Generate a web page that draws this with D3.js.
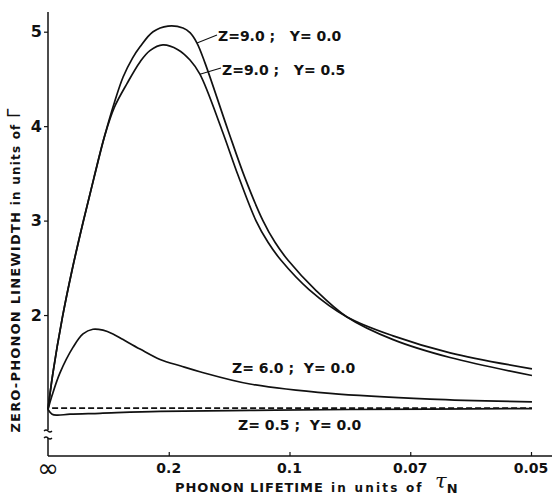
<!DOCTYPE html>
<html>
<head>
<meta charset="utf-8">
<script src="https://cdn.jsdelivr.net/npm/d3@7"></script>
<style>
  html, body { margin: 0; padding: 0; background: #fff; }
  svg { display: block; font-family: 'DejaVu Sans', sans-serif; font-weight: bold; }
</style>
</head>
<body>
<svg id="chart" width="558" height="498"></svg>
<script>
// x is in units of 1/tau (0 = infinite lifetime), y is linewidth in units of Gamma
const xTicks = [0, 5, 10, 15, 20];
const xTickLabels = ['∞', '0.2', '0.1', '0.07', '0.05'];
const yTicks = [2, 3, 4, 5];

const z9y0 = [
  [0, 1.0], [0.2, 1.38], [0.6, 1.98], [1.0, 2.48], [1.45, 2.98], [1.9, 3.45],
  [2.35, 3.9], [2.75, 4.25], [3.11, 4.52], [3.5, 4.72], [3.81, 4.84], [4.35, 5.0],
  [4.97, 5.06], [5.59, 5.04], [5.88, 4.99], [6.17, 4.88], [6.5, 4.67], [7.45, 3.96],
  [8.16, 3.45], [8.9, 3.0], [9.4, 2.77], [9.94, 2.58], [11.06, 2.27], [12.38, 1.98],
  [14.29, 1.74], [16.65, 1.55], [20.04, 1.36]
];
const z9y05 = [
  [0, 1.0], [0.2, 1.38], [0.6, 1.98], [1.0, 2.48], [1.45, 2.98], [1.9, 3.45],
  [2.35, 3.9], [2.75, 4.2], [3.27, 4.45], [3.81, 4.68], [4.22, 4.8], [4.76, 4.86],
  [5.38, 4.81], [5.88, 4.7], [6.29, 4.55], [7.2, 3.96], [7.87, 3.48], [8.61, 3.0],
  [9.11, 2.77], [9.65, 2.58], [10.81, 2.27], [12.38, 1.98], [14.29, 1.78],
  [16.65, 1.6], [20.04, 1.43]
];
const z6y0 = [
  [0, 1.0], [0.17, 1.15], [0.5, 1.39], [1.04, 1.66], [1.45, 1.8], [1.86, 1.85],
  [2.28, 1.84], [2.69, 1.8], [3.11, 1.74], [3.81, 1.64], [4.64, 1.53], [5.5, 1.46],
  [6.29, 1.4], [8.36, 1.27], [11.68, 1.17], [15.82, 1.11], [20.04, 1.08]
];
const z05y0 = [
  [0, 1.0], [0.17, 0.95], [0.37, 0.94], [0.91, 0.95], [2.15, 0.96], [4.64, 0.98],
  [8.36, 0.99], [12.5, 1.0], [20.04, 1.01]
];
const dashedRef = [[0.17, 1.015], [20.04, 1.015]];

const svg = d3.select('#chart');
const x0 = 48, xEnd = 552, yAxisBottom = 456, yAxisTop = 12;

const xScale = d3.scaleLinear().domain([0, 20]).range([48, 531]);
const yScale = d3.scaleLinear().domain([1, 5]).range([409.5, 31.7]);

// axes lines
const axisColor = '#111';
svg.append('line')
  .attr('x1', x0).attr('x2', xEnd)
  .attr('y1', yAxisBottom).attr('y2', yAxisBottom)
  .attr('stroke', axisColor).attr('stroke-width', 1.5);
svg.append('line')
  .attr('x1', x0).attr('x2', x0)
  .attr('y1', yAxisTop).attr('y2', 430)
  .attr('stroke', axisColor).attr('stroke-width', 1.5);
svg.append('line')
  .attr('x1', x0).attr('x2', x0)
  .attr('y1', 438).attr('y2', yAxisBottom)
  .attr('stroke', axisColor).attr('stroke-width', 1.5);
// axis break mark
[430, 437].forEach(yy => {
  svg.append('path')
    .attr('d', `M${x0 - 4},${yy + 1} q2,-2 4,0 t4,0`)
    .attr('fill', 'none').attr('stroke', axisColor).attr('stroke-width', 1.3);
});

// x ticks (inward) and labels
const xAxis = d3.axisTop(xScale)
  .tickValues(xTicks)
  .tickSize(4)
  .tickSizeOuter(0)
  .tickFormat(() => '');
const gx = svg.append('g').attr('transform', `translate(0,${yAxisBottom})`).call(xAxis);
gx.select('.domain').remove();
gx.selectAll('.tick line').attr('stroke', axisColor).attr('stroke-width', 1.2)
  .filter(d => d === 0).remove();

svg.append('g').selectAll('text')
  .data(xTicks)
  .join('text')
  .attr('x', d => xScale(d))
  .attr('y', (d, i) => i === 0 ? 477 : 473)
  .attr('text-anchor', 'middle')
  .attr('font-size', (d, i) => i === 0 ? 26 : 14)
  .attr('font-weight', (d, i) => i === 0 ? 'normal' : 'bold')
  .attr('fill', axisColor)
  .text((d, i) => xTickLabels[i]);

// y ticks (outward) and labels
const yAxis = d3.axisLeft(yScale)
  .tickValues(yTicks)
  .tickSize(4)
  .tickSizeOuter(0)
  .tickFormat(d3.format('d'));
const gy = svg.append('g').attr('transform', `translate(${x0},0)`).call(yAxis);
gy.select('.domain').remove();
gy.selectAll('.tick line').attr('stroke', axisColor).attr('stroke-width', 1.2);
gy.selectAll('.tick text')
  .attr('font-size', 16).attr('font-weight', 'bold')
  .attr('font-family', "'DejaVu Sans', sans-serif")
  .attr('fill', axisColor).attr('x', -6);

// axis titles
const xTitle = svg.append('text')
  .attr('y', 492)
  .attr('font-size', 13).attr('fill', axisColor);
xTitle.append('tspan').attr('x', 175).attr('letter-spacing', 0.9).text('PHONON  LIFETIME');
xTitle.append('tspan').attr('x', 331).attr('font-size', 12).attr('letter-spacing', 2.2).text('in  units  of');
xTitle.append('tspan').attr('x', 435).attr('dy', -4).attr('font-size', 21).attr('font-weight', 'normal')
  .attr('font-family', "'DejaVu Serif', serif").attr('font-style', 'italic').text('τ');
xTitle.append('tspan').attr('dy', 5).attr('font-size', 13).text('N');

const yTitle = svg.append('text')
  .attr('transform', 'translate(20,270) rotate(-90)')
  .attr('text-anchor', 'middle')
  .attr('font-size', 13).attr('fill', axisColor)
  .attr('letter-spacing', 1.2);
yTitle.append('tspan').text('ZERO-PHONON  LINEWIDTH  ');
yTitle.append('tspan').attr('font-size', 12).text('in  units  of  ');
yTitle.append('tspan').attr('font-size', 17).attr('font-weight', 'normal').text('Γ');

// curves
const line = d3.line()
  .x(d => xScale(d[0]))
  .y(d => yScale(d[1]))
  .curve(d3.curveCatmullRom.alpha(0.5));

const curves = [z9y0, z9y05, z6y0, z05y0];
svg.append('g').selectAll('path')
  .data(curves)
  .join('path')
  .attr('d', line)
  .attr('fill', 'none')
  .attr('stroke', '#111')
  .attr('stroke-width', 1.7);

svg.append('path')
  .datum(dashedRef)
  .attr('d', line)
  .attr('fill', 'none')
  .attr('stroke', '#111')
  .attr('stroke-width', 1.8)
  .attr('stroke-dasharray', '6,3');

// curve labels with leader lines
const labels = [
  { text: 'Z=9.0 ;   Y= 0.0', x: 218, y: 41, lead: [z9y0, 6.17], lx: 217, ly: 35 },
  { text: 'Z=9.0 ;   Y= 0.5', x: 222, y: 75, lead: [z9y05, 6.29], lx: 221, ly: 68 },
  { text: 'Z= 6.0 ;  Y= 0.0', x: 232, y: 373, lead: null },
  { text: 'Z= 0.5 ;  Y= 0.0', x: 238, y: 430, lead: null }
];
labels.forEach(l => {
  if (l.lead) {
    const pt = l.lead[0].find(p => p[0] === l.lead[1]);
    svg.append('line')
      .attr('x1', xScale(pt[0])).attr('y1', yScale(pt[1]))
      .attr('x2', l.lx).attr('y2', l.ly)
      .attr('stroke', '#111').attr('stroke-width', 1.1);
  }
  svg.append('text')
    .attr('x', l.x).attr('y', l.y)
    .attr('font-size', 14).attr('fill', '#111')
    .style('white-space', 'pre')
    .text(l.text);
});
</script>
</body>
</html>
